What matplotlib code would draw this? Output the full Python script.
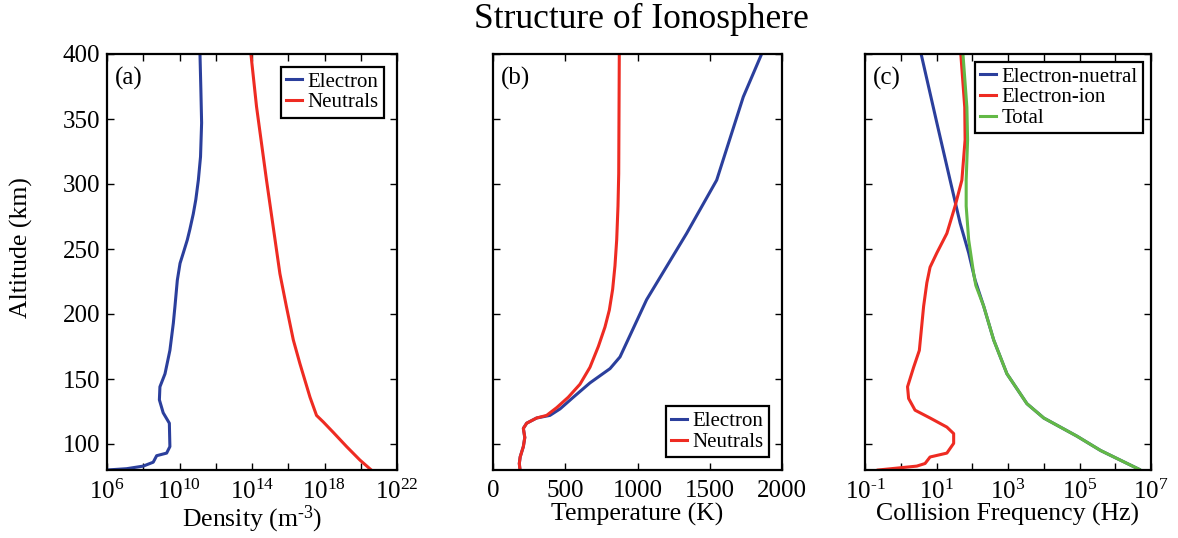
import math
import matplotlib
matplotlib.use("Agg")
import matplotlib.pyplot as plt
from matplotlib.ticker import FixedLocator, FuncFormatter

plt.rcParams['font.family'] = ['Liberation Serif', 'DejaVu Serif']
plt.rcParams['mathtext.fontset'] = 'custom'
plt.rcParams['mathtext.rm'] = 'Liberation Serif'
plt.rcParams['mathtext.it'] = 'Liberation Serif:italic'

blue = '#2b3f9c'
red = '#ee2b22'
green = '#63b946'

# (a) density, log10 values
ne_alt = [400, 372, 347, 321, 303, 288, 277, 265, 257, 247, 239, 226, 206, 193, 172, 154, 144, 134, 124, 116, 98, 93, 91, 86, 83, 81, 80]
ne_log = [11.13, 11.18, 11.22, 11.16, 11.04, 10.9, 10.76, 10.57, 10.43, 10.21, 10.03, 9.88, 9.75, 9.66, 9.47, 9.2, 8.92, 8.89, 9.1, 9.44, 9.47, 9.29, 8.74, 8.55, 8.0, 7.08, 6.0]
nn_alt = [400, 359.5, 303, 267, 231, 205.6, 180, 162, 149, 136, 122, 117, 109, 98, 87.7, 80.5]
nn_log = [13.94, 14.25, 14.8, 15.17, 15.54, 15.9, 16.28, 16.64, 16.92, 17.2, 17.56, 17.93, 18.48, 19.22, 19.95, 20.54]

# (b) temperature (K)
te_alt = [400, 367, 303, 262, 211, 167, 158, 147, 136, 127, 122, 120, 116, 112, 105, 98, 90, 85, 80]
te_val = [1859, 1732, 1548, 1340, 1063, 879, 810, 671, 556, 464, 394, 302, 233, 210, 220, 210, 188, 182, 187]
tn_alt = [400, 308, 283, 257, 237, 219, 203, 190, 175, 159, 146, 136, 128, 122, 120, 116, 112, 105, 98, 90, 85, 80]
tn_val = [874, 870, 865, 856, 844, 828, 805, 775, 729, 671, 602, 521, 441, 371, 302, 233, 210, 220, 210, 188, 182, 187]

# (c) collision frequency, log10 values
nu_en_alt = [400, 347, 303, 270, 247, 226, 206, 180, 154, 131, 120, 106, 95, 80.5]
nu_en_log = [0.57, 1.01, 1.38, 1.66, 1.9, 2.08, 2.32, 2.6, 2.97, 3.53, 4.0, 4.93, 5.59, 6.67]
nu_ei_alt = [400, 359, 334, 303, 283, 262, 247, 236, 224, 206, 172, 159, 144, 135, 126, 120, 113, 108, 100.5, 93, 90, 85, 83, 80]
nu_ei_log = [1.68, 1.79, 1.80, 1.71, 1.52, 1.29, 1.01, 0.82, 0.73, 0.64, 0.52, 0.36, 0.19, 0.22, 0.40, 0.82, 1.29, 1.48, 1.48, 1.29, 0.82, 0.68, 0.45, -0.63]
nu_tot_alt = [400, 359, 334, 303, 283, 257, 231, 222, 206, 180, 154, 131, 120, 106, 95, 80.5]
nu_tot_log = [1.74, 1.85, 1.87, 1.83, 1.83, 1.9, 2.04, 2.1, 2.32, 2.6, 2.97, 3.53, 4.0, 4.93, 5.59, 6.67]

W, H = 1178, 538
fig = plt.figure(figsize=(W / 100, H / 100), dpi=100)

def box(x0, x1):
    return [x0 / W, (H - 470) / H, (x1 - x0) / W, 416 / H]

axa = fig.add_axes(box(107, 397))
axb = fig.add_axes(box(493, 782))
axc = fig.add_axes(box(865, 1151))

lw = 2.2
p10 = lambda v: [10 ** x for x in v]

def logfmt(keep):
    def f(v, p):
        k = round(math.log10(v))
        if not keep(k):
            return ''
        return r'$\mathregular{10^{\text{%d}}}$' % k
    return FuncFormatter(f)

axa.plot(p10(ne_log), ne_alt, color=blue, lw=lw, label='Electron')
axa.plot(p10(nn_log), nn_alt, color=red, lw=lw, label='Neutrals')
axa.set_xscale('log')
axa.set_xlim(1e6, 1e22)
axa.xaxis.set_major_locator(FixedLocator([10.0 ** k for k in range(6, 23, 2)]))
axa.xaxis.set_minor_locator(FixedLocator([]))
axa.xaxis.set_major_formatter(logfmt(lambda k: k % 4 == 2))
axa.set_xlabel(r'Density (m$^{\mathregular{\text{-3}}}$)', fontsize=18.5)
axa.set_ylabel('Altitude (km)', fontsize=18.5)
axa.yaxis.set_label_coords(-0.255, 0.534)

axb.plot(te_val, te_alt, color=blue, lw=lw, label='Electron')
axb.plot(tn_val, tn_alt, color=red, lw=lw, label='Neutrals')
axb.set_xlim(0, 2000)
axb.set_xticks([0, 500, 1000, 1500, 2000])
axb.set_xlabel('Temperature (K)', fontsize=18.5)

axc.plot(p10(nu_en_log), nu_en_alt, color=blue, lw=lw, label='Electron-nuetral')
axc.plot(p10(nu_ei_log), nu_ei_alt, color=red, lw=lw, label='Electron-ion')
axc.plot(p10(nu_tot_log), nu_tot_alt, color=green, lw=lw, label='Total')
axc.set_xscale('log')
axc.set_xlim(1e-1, 1e7)
axc.xaxis.set_major_locator(FixedLocator([10.0 ** k for k in range(-1, 8)]))
axc.xaxis.set_minor_locator(FixedLocator([]))
axc.xaxis.set_major_formatter(logfmt(lambda k: k % 2 == 1))
axc.set_xlabel('Collision Frequency (Hz)', fontsize=18.5)

for ax, lab in zip([axa, axb, axc], ['(a)', '(b)', '(c)']):
    ax.set_ylim(80, 400)
    ax.set_yticks([100, 150, 200, 250, 300, 350, 400])
    ax.tick_params(direction='in', top=True, right=True, labelsize=18, length=5, width=1)
    ax.tick_params(axis='x', pad=7)
    ax.tick_params(axis='y', pad=5)
    for s in ax.spines.values():
        s.set_linewidth(1.6)
    ax.xaxis.set_label_coords(0.5, -0.08)
    ax.text(0.028, 0.97, lab, transform=ax.transAxes, fontsize=18, va='top', ha='left')
    if ax is not axa:
        ax.set_yticklabels([])

legkw = dict(fontsize=15, fancybox=False, edgecolor='black', framealpha=1,
             handlelength=0.8, handletextpad=0.25, borderpad=0.25, labelspacing=0.05,
             borderaxespad=0)
axa.legend(loc='upper right', bbox_to_anchor=(0.955, 0.969), **legkw).get_frame().set_linewidth(1.6)
axb.legend(loc='lower right', bbox_to_anchor=(0.955, 0.031), **legkw).get_frame().set_linewidth(1.6)
axc.legend(loc='upper right', bbox_to_anchor=(0.972, 0.981), **legkw).get_frame().set_linewidth(1.6)

fig.text(641 / W, 0.995, 'Structure of Ionosphere', fontsize=25.5, ha='center', va='top')
fig.savefig('out.png', dpi=100)
